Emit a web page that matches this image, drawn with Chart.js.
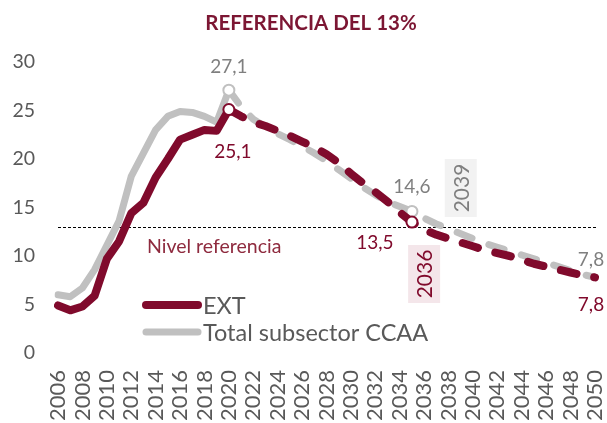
<!DOCTYPE html>
<html>
<head>
<meta charset="utf-8">
<script src="https://cdn.jsdelivr.net/npm/chart.js@4.4.1/dist/chart.umd.min.js"></script>
<style>
  html, body { margin: 0; padding: 0; background: #fff; }
  #wrap { width: 607px; height: 423px; position: relative; }
</style>
</head>
<body>
<div id="wrap"><canvas id="chart"></canvas></div>
<script>
const years = [2006, 2007, 2008, 2009, 2010, 2011, 2012, 2013, 2014, 2015,
  2016, 2017, 2018, 2019, 2020, 2021, 2022, 2023, 2024, 2025,
  2026, 2027, 2028, 2029, 2030, 2031, 2032, 2033, 2034, 2035,
  2036, 2037, 2038, 2039, 2040, 2041, 2042, 2043, 2044, 2045,
  2046, 2047, 2048, 2049, 2050];

// EXT (Extremadura), %
const ext = [4.9, 4.4, 4.8, 5.9, 9.7, 11.5, 14.4, 15.5, 18.1, 20.0,
  22.0, 22.5, 23.0, 22.9, 25.1, 24.4, 23.8, 23.4, 22.9, 22.4,
  21.8, 21.2, 20.5, 19.6, 18.5, 17.5, 16.6, 15.6, 14.5, 13.5,
  12.7, 12.2, 11.8, 11.4, 11.0, 10.6, 10.3, 10.0, 9.6, 9.2,
  8.9, 8.6, 8.3, 8.0, 7.8];

// Total subsector CCAA, %
const ccaa = [6.0, 5.8, 6.7, 8.6, 11.1, 13.6, 18.2, 20.6, 23.0, 24.4,
  24.9, 24.8, 24.4, 23.8, 27.1, 25.4, 24.1, 23.3, 22.6, 22.0,
  21.3, 20.6, 19.8, 18.9, 18.0, 17.1, 16.3, 15.6, 15.1, 14.6,
  13.9, 13.3, 12.8, 12.3, 11.8, 11.3, 10.9, 10.5, 10.1, 9.7,
  9.3, 8.9, 8.5, 8.1, 7.8];

const seriesNames = ["EXT", "Total subsector CCAA"];
const yTicks = [0, 5, 10, 15, 20, 25, 30];
const referenceLevel = 13;
const firstProjectionYear = 2020;
const markedYears = [2020, 2035];
const crossingYears = [2036, 2039]; // EXT, CCAA reach the reference level

const RED = "#800a2c";
const GREY = "#c0c0c0";
const GREY_TEXT = "#7f7f7f";
const TEXT = "#595959";
const FONT = "Lato, 'Open Sans', sans-serif";

function fmt(v) {
  return v.toFixed(1).replace(".", ",");
}

function yearBox(ctx, x, top, bottom, bg, color, label) {
  ctx.fillStyle = bg;
  ctx.fillRect(x - 16, top, 32, bottom - top);
  ctx.save();
  ctx.translate(x, (top + bottom) / 2);
  ctx.rotate(-Math.PI / 2);
  ctx.fillStyle = color;
  ctx.font = "21px " + FONT;
  ctx.textAlign = "center";
  ctx.textBaseline = "middle";
  ctx.fillText(String(label), 0, 1);
  ctx.restore();
}

const extras = {
  id: "extras",
  beforeDatasetsDraw(chart) {
    const { ctx, chartArea: a, scales: { x, y } } = chart;
    const yRef = Math.round(y.getPixelForValue(referenceLevel));
    ctx.save();
    yearBox(ctx, x.getPixelForValue(years.indexOf(crossingYears[0])), yRef + 18, yRef + 76, "#f4e6ea", RED, crossingYears[0]);
    yearBox(ctx, x.getPixelForValue(years.indexOf(crossingYears[1])), yRef - 68, yRef - 10, "#f2f2f2", GREY_TEXT, crossingYears[1]);

    ctx.strokeStyle = "#000";
    ctx.lineWidth = 1;
    ctx.setLineDash([3, 2]);
    ctx.beginPath();
    ctx.moveTo(a.left, yRef + 0.5);
    ctx.lineTo(a.right + 2, yRef + 0.5);
    ctx.stroke();
    ctx.setLineDash([]);

    ctx.fillStyle = "#8e2a3e";
    ctx.font = "19.5px " + FONT;
    ctx.textAlign = "left";
    ctx.textBaseline = "alphabetic";
    ctx.fillText("Nivel referencia", 147, yRef + 26);
    ctx.restore();
  },
  afterDatasetsDraw(chart) {
    const { ctx, scales: { x, y } } = chart;
    ctx.save();

    // value callouts
    const callouts = [
      { data: ccaa, year: 2020, dx: 0, dy: -23, color: GREY_TEXT },
      { data: ext, year: 2020, dx: 4, dy: 42, color: RED },
      { data: ccaa, year: 2035, dx: 0, dy: -25, color: GREY_TEXT },
      { data: ext, year: 2035, dx: -37, dy: 21, color: RED },
      { data: ccaa, year: 2050, dx: -4, dy: -17, color: GREY_TEXT },
      { data: ext, year: 2050, dx: -4, dy: 28, color: RED }
    ];
    ctx.font = "19px " + FONT;
    ctx.textAlign = "center";
    ctx.textBaseline = "middle";
    callouts.forEach(c => {
      const i = years.indexOf(c.year);
      ctx.fillStyle = c.color;
      ctx.fillText(fmt(c.data[i]), x.getPixelForValue(i) + c.dx, y.getPixelForValue(c.data[i]) + c.dy);
    });

    // legend
    const items = [[seriesNames[0], RED, 8, 305], [seriesNames[1], GREY, 7, 332]];
    ctx.lineCap = "round";
    ctx.font = "23.5px " + FONT;
    ctx.textAlign = "left";
    ctx.textBaseline = "middle";
    items.forEach(([name, color, w, ly]) => {
      ctx.strokeStyle = color;
      ctx.lineWidth = w;
      ctx.beginPath();
      ctx.moveTo(146, ly);
      ctx.lineTo(198, ly);
      ctx.stroke();
      ctx.fillStyle = TEXT;
      ctx.fillText(name, 203, ly + 1);
    });

    // title
    ctx.fillStyle = "#7c1633";
    ctx.font = "bold 20.5px " + FONT;
    ctx.textAlign = "center";
    ctx.fillText("REFERENCIA DEL 13%", 311, 23);
    ctx.restore();
  }
};

function lineDataset(label, data, color, width) {
  return {
    label,
    data,
    borderColor: color,
    borderWidth: width,
    borderCapStyle: "round",
    borderJoinStyle: "round",
    tension: 0,
    fill: false,
    segment: {
      borderDash: c => years[c.p0DataIndex] >= firstProjectionYear ? [16, 18] : undefined
    },
    pointRadius: c => markedYears.includes(years[c.dataIndex]) ? 5.5 : 0,
    pointHoverRadius: c => markedYears.includes(years[c.dataIndex]) ? 5.5 : 0,
    pointBackgroundColor: "#fff",
    pointBorderColor: color,
    pointBorderWidth: 2
  };
}

new Chart(document.getElementById("chart"), {
  type: "line",
  data: {
    labels: years,
    datasets: [
      lineDataset(seriesNames[0], ext, RED, 8),
      lineDataset(seriesNames[1], ccaa, GREY, 7)
    ]
  },
  options: {
    responsive: true,
    maintainAspectRatio: false,
    animation: false,
    devicePixelRatio: 1,
    layout: { padding: { top: 62, right: 12, bottom: 0, left: 0 } },
    plugins: {
      legend: { display: false },
      tooltip: { enabled: false },
      title: { display: false }
    },
    scales: {
      x: {
        type: "category",
        offset: false,
        grid: { display: false, drawTicks: false },
        border: { display: false },
        ticks: {
          autoSkip: false,
          minRotation: 90,
          maxRotation: 90,
          padding: 17,
          color: TEXT,
          font: { family: FONT, size: 22 },
          callback: (v, i) => i % 2 === 0 ? String(years[i]) : null
        },
        afterFit: s => {
          s.height = 70;
          s.paddingLeft = 0;
          s.paddingRight = 0;
        }
      },
      y: {
        min: 0,
        max: 30,
        grid: { display: false, drawTicks: false },
        border: { display: false },
        afterBuildTicks: s => { s.ticks = yTicks.map(v => ({ value: v })); },
        ticks: {
          padding: 23,
          color: TEXT,
          font: { family: FONT, size: 19.5 }
        },
        afterFit: s => { s.width = 58; }
      }
    }
  },
  plugins: [extras]
});
</script>
</body>
</html>
